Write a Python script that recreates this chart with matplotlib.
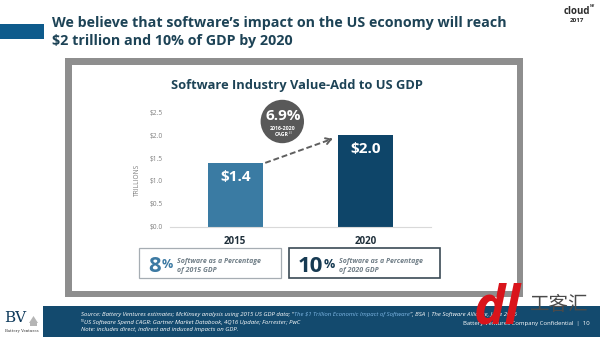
import matplotlib
matplotlib.use("Agg")
import matplotlib.pyplot as plt
from matplotlib.patches import Rectangle, Circle, Polygon

plt.rcParams['font.family'] = ['Open Sans', 'DejaVu Sans']

# ---- data ----
years = ["2015", "2020"]
values = [1.4, 2.0]                      # trillions USD
bar_colors = ["#3a7ba3", "#0e4569"]
gdp_share = [8, 10]                      # percent of GDP
cagr = 6.9
yticks = [0.0, 0.5, 1.0, 1.5, 2.0, 2.5]

W, H = 600, 337
fig = plt.figure(figsize=(W / 100, H / 100), dpi=100)
fig.patch.set_facecolor("white")


def fbox(x0, y0, x1, y1):
    return [x0 / W, 1 - y1 / H, (x1 - x0) / W, (y1 - y0) / H]


# pixel-space canvas for slide decorations
bg = fig.add_axes([0, 0, 1, 1])
bg.set_xlim(0, W)
bg.set_ylim(H, 0)
bg.axis("off")

navy = "#1d4356"

# slide header
bg.add_patch(Rectangle((0, 23.5), 44, 15, color="#0e5b8c", lw=0))
bg.text(52, 22.5, "We believe that software’s impact on the US economy will reach",
        fontsize=10.3, fontweight="bold", color=navy, va="center", ha="left")
bg.text(52, 40.5, r"\$2 trillion and 10% of GDP by 2020",
        fontsize=10.3, fontweight="bold", color=navy, va="center", ha="left")

# conference mark
bg.text(577, 12, "cloud", fontsize=7, fontweight="bold", color="#2b2b2b",
        ha="center", va="center")
bg.text(592, 6, "NY", fontsize=2.6, fontweight="bold", color="#2b2b2b",
        ha="center", va="center")
bg.text(577, 20.5, "2017", fontsize=4.5, fontweight="bold", color="#2b2b2b",
        ha="center", va="center")

# framed panel
bg.add_patch(Rectangle((65, 58), 458, 239, color="#8e8e8e", lw=0))
bg.add_patch(Rectangle((72, 65), 445, 226, color="white", lw=0))

bg.text(297, 85, "Software Industry Value-Add to US GDP", fontsize=9.3,
        fontweight="bold", color=navy, ha="center", va="center")

# ---- bar chart ----
ax = fig.add_axes(fbox(170.1, 112.3, 430.7, 226.7))
ax.patch.set_alpha(0)
x = list(range(len(years)))
ax.bar(x, values, width=0.42, color=bar_colors, zorder=2)
ax.set_xlim(-0.5, 1.5)
ax.set_ylim(0, 2.5)
for s in ("top", "right", "left"):
    ax.spines[s].set_visible(False)
ax.spines["bottom"].set_color("#d9d9d9")
ax.spines["bottom"].set_linewidth(0.8)
ax.set_yticks(yticks, labels=[r"\$%.1f" % t for t in yticks])
ax.set_xticks(x, labels=years)
ax.tick_params(axis="y", length=0, pad=5.5, labelsize=4.8, labelcolor="#808080")
ax.tick_params(axis="x", length=0, pad=7)
for lab in ax.get_xticklabels():
    lab.set_fontsize(7)
    lab.set_fontweight("bold")
    lab.set_color("#1f2f3a")

for xi, v in zip(x, values):
    ax.text(xi, v - 0.31, r"\$%.1f" % v, color="white", fontsize=11,
            fontweight="bold", ha="center", va="center", zorder=3)

bg.text(137, 180, "TRILLIONS", rotation=90, fontsize=4.8, color="#808080",
        ha="center", va="center")

# growth arrow between the bars
x0, y0 = 0.23, values[0] - 0.005
x1, y1 = 0.765, values[1] - 0.06
ax.plot([x0, x0 + (x1 - x0) * 0.93], [y0, y0 + (y1 - y0) * 0.93],
        ls=(0, (3, 1.5)), color="#5f5f5f", lw=1.4, clip_on=False, zorder=3)
ax.annotate("", xy=(x1, y1), xytext=(x1 - (x1 - x0) * 0.1, y1 - (y1 - y0) * 0.1),
            arrowprops=dict(arrowstyle="->,head_length=0.35,head_width=0.22",
                            color="#5f5f5f", lw=1.4), annotation_clip=False)

# CAGR badge
bg.add_patch(Circle((282.3, 121.5), 21.7, color="#595959", lw=0, zorder=4))
bg.text(283, 116, "%.1f%%" % cagr, fontsize=11, fontweight="bold", color="white",
        ha="center", va="center", zorder=5)
bg.text(283, 128, "2016-2020", fontsize=3.8, fontweight="bold", color="white",
        ha="center", va="center", zorder=5)
bg.text(282, 134.5, "CAGR", fontsize=3.8, fontweight="bold", color="white",
        ha="center", va="center", zorder=5)
bg.text(288.5, 133, "(1)", fontsize=2.4, color="white",
        ha="left", va="center", zorder=5)

# GDP share boxes
boxes = [((139, 248), 142, "#a6adb3", 0.9, "#3d7aa3"),
         ((289, 248), 151, "#3b4a55", 1.2, "#163a52")]
for (pos, w, ec, lw, nc), pct, yr in zip(boxes, gdp_share, years):
    bg.add_patch(Rectangle(pos, w, 30, facecolor="white", edgecolor=ec, lw=lw))
    num = bg.text(pos[0] + 9, 272.5, str(pct), fontsize=16, fontweight="bold",
                  color=nc, ha="left", va="baseline")
    pc = bg.annotate("%", xy=(1, 1), xycoords=num, xytext=(0.5, -1),
                     textcoords="offset points", fontsize=9, fontweight="bold",
                     color=nc, ha="left", va="top")
    bg.annotate("Software as a Percentage\nof %s GDP" % yr, xy=(1, 1),
                xycoords=pc, xytext=(3, 0), textcoords="offset points",
                fontsize=5, fontweight="bold", fontstyle="italic",
                color="#6f7d86", ha="left", va="top", linespacing=1.5)

# footer band
bg.add_patch(Rectangle((43, 306), W - 43, 31, color="#134a6e", lw=0))
fs = 4.3
t1 = bg.text(81, 314.5, "Source: Battery Ventures estimates; McKinsey analysis using 2015 US GDP data; “",
             fontsize=fs, fontstyle="italic", color="white", ha="left", va="center")
t2 = bg.annotate("The \\$1 Trillion Economic Impact of Software", xy=(1, 0), xycoords=t1,
                 fontsize=fs, fontstyle="italic", color="#7fb8e6", ha="left",
                 va="bottom")
t3 = bg.annotate("”, BSA | The Software Alliance, June 2016", xy=(1, 0), xycoords=t2,
                 fontsize=fs, fontstyle="italic", color="white", ha="left", va="bottom")
bg.text(81, 320.5, "(1)", fontsize=2.6, color="white", ha="left", va="center")
bg.text(84.5, 322.3,
        "US Software Spend CAGR: Gartner Market Databook, 4Q16 Update; Forrester; PwC",
        fontsize=fs, fontstyle="italic", color="white", ha="left", va="center")
bg.text(81, 330, "Note: includes direct, indirect and induced impacts on GDP.",
        fontsize=fs, fontstyle="italic", color="white", ha="left", va="center")
bg.text(590, 323, "Battery Ventures Company Confidential  |  10", fontsize=fs,
        color="white", ha="right", va="center")

# BV logo
bg.text(4, 318.5, "BV", fontsize=11, family="DejaVu Serif", color="#0f3a5c",
        ha="left", va="center")
bg.add_patch(Polygon([[29, 323], [33.5, 316], [38, 323]], closed=True,
                     color="#b5b5b5", lw=0))
bg.add_patch(Rectangle((30, 323), 7, 3, color="#b5b5b5", lw=0))
bg.text(22, 331, "Battery Ventures", fontsize=2.8, family="DejaVu Serif",
        color="#333333", ha="center", va="center")

# watermark
bg.text(497, 310, "dl", fontsize=38, fontweight="bold", fontstyle="italic",
        color="#d9141b", ha="center", va="center", zorder=10)
bg.text(559, 304, "工客汇", fontsize=14, family=["Noto Sans CJK SC", "DejaVu Sans"],
        color="#4a4a4a", ha="center", va="center", zorder=10)

fig.savefig("out.png", dpi=100)
